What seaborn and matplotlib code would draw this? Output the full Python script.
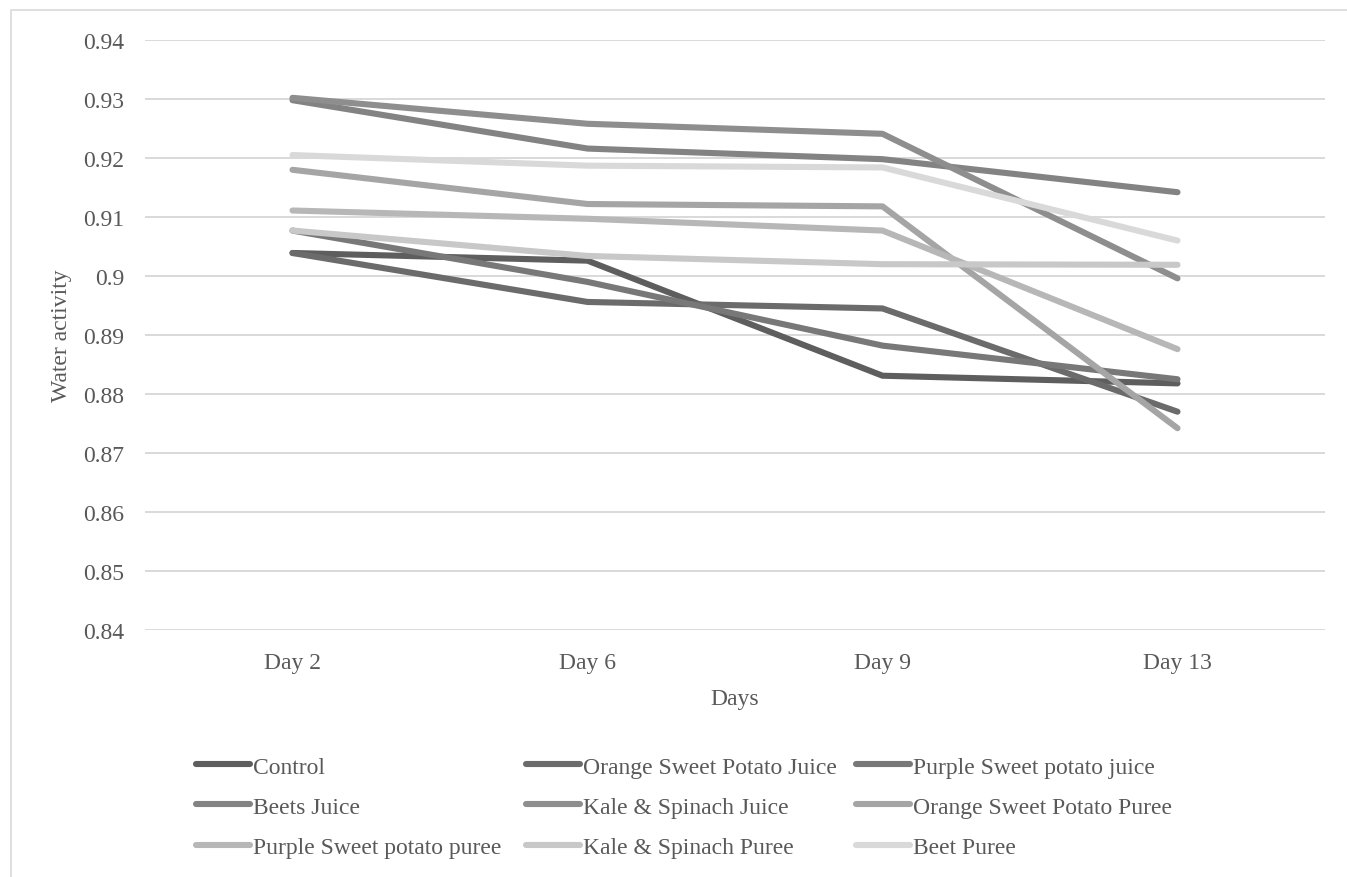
import matplotlib
matplotlib.use("Agg")
import matplotlib.pyplot as plt
from matplotlib.patches import Rectangle
import numpy as np
import pandas as pd
import seaborn as sns

# Sampling days and treatments
days = ["Day 2", "Day 6", "Day 9", "Day 13"]
treatments = [
    "Control",
    "Orange Sweet Potato Juice",
    "Purple Sweet potato juice",
    "Beets Juice",
    "Kale & Spinach Juice",
    "Orange Sweet Potato Puree",
    "Purple Sweet potato puree",
    "Kale & Spinach Puree",
    "Beet Puree",
]

# Water activity per treatment across the sampling days
control = [0.9039, 0.9026, 0.8831, 0.8818]
osp_juice = [0.9039, 0.8956, 0.8945, 0.8770]
psp_juice = [0.9077, 0.8990, 0.8882, 0.8825]
beets_juice = [0.9298, 0.9216, 0.9198, 0.9142]
kale_spinach_juice = [0.9302, 0.9258, 0.9241, 0.8996]
osp_puree = [0.9180, 0.9122, 0.9118, 0.8742]
psp_puree = [0.9111, 0.9097, 0.9077, 0.8876]
kale_spinach_puree = [0.9077, 0.9034, 0.9020, 0.9019]
beet_puree = [0.9205, 0.9187, 0.9184, 0.9060]

values = [control, osp_juice, psp_juice, beets_juice, kale_spinach_juice,
          osp_puree, psp_puree, kale_spinach_puree, beet_puree]

greys = ["#5e5e5e", "#6b6b6b", "#787878", "#838383", "#8e8e8e",
         "#a5a5a5", "#b7b7b7", "#c8c8c8", "#d9d9d9"]
palette = dict(zip(treatments, greys))

rows = []
for name, vals in zip(treatments, values):
    for d, v in zip(days, vals):
        rows.append({"Days": d, "Water activity": v, "Treatment": name})
df = pd.DataFrame(rows)

sns.set_theme(style="white")
plt.rcParams["font.family"] = ["Liberation Serif", "DejaVu Serif"]
text_color = "#595959"

W, H = 1347, 878
fig = plt.figure(figsize=(W / 100, H / 100), dpi=100)
ax = fig.add_axes([145 / W, 1 - 631 / H, 1180 / W, 590 / H])

sns.lineplot(data=df, x="Days", y="Water activity", hue="Treatment",
             hue_order=treatments, palette=palette, linewidth=4.4,
             sort=False, ax=ax, legend=True)
for ln in ax.get_lines():
    ln.set_solid_capstyle("round")
    ln.set_solid_joinstyle("round")

handles, labels = ax.get_legend_handles_labels()
ax.get_legend().remove()

ax.set_xlim(-0.5, 3.5)
ax.set_ylim(0.84, 0.94)
yt = np.round(np.arange(0.84, 0.9401, 0.01), 2)
ax.set_yticks(yt)
ax.set_yticklabels([f"{v:.2f}".rstrip("0") for v in yt])

ax.yaxis.grid(True, color="#d9d9d9", linewidth=1.4)
ax.xaxis.grid(False)
ax.set_axisbelow(True)
for s in ax.spines.values():
    s.set_visible(False)

ax.tick_params(axis="both", length=0, labelsize=17, colors=text_color)
ax.tick_params(axis="y", pad=15)
ax.tick_params(axis="x", pad=16)

ax.set_xlabel("Days", fontsize=17, color=text_color)
ax.set_ylabel("Water activity", fontsize=17, color=text_color)
ax.xaxis.set_label_coords(0.5, (631 - 689) / 590)
ax.yaxis.set_label_coords((72 - 145) / 1180, 0.5)

# Legend: three columns, filled row by row
col_x = [196, 526, 856]
for c in range(3):
    idx = [c, c + 3, c + 6]
    leg = fig.legend([handles[i] for i in idx], [labels[i] for i in idx],
                     loc="upper left", bbox_to_anchor=(col_x[c] / W, 1 - 757 / H),
                     frameon=False, fontsize=17, handlelength=2.3,
                     handletextpad=0.12, labelspacing=0.79,
                     borderpad=0, borderaxespad=0)
    for t in leg.get_texts():
        t.set_color(text_color)
    for h in leg.get_lines():
        h.set_linewidth(4.4)
        h.set_solid_capstyle("round")

# Light chart frame
fig.patches.append(Rectangle((11 / W, -0.05), 1.2, 1 - 11 / H + 0.05,
                             transform=fig.transFigure, fill=False,
                             edgecolor="#d9d9d9", linewidth=1.2))

fig.savefig("out.png", dpi=100, facecolor="white")
